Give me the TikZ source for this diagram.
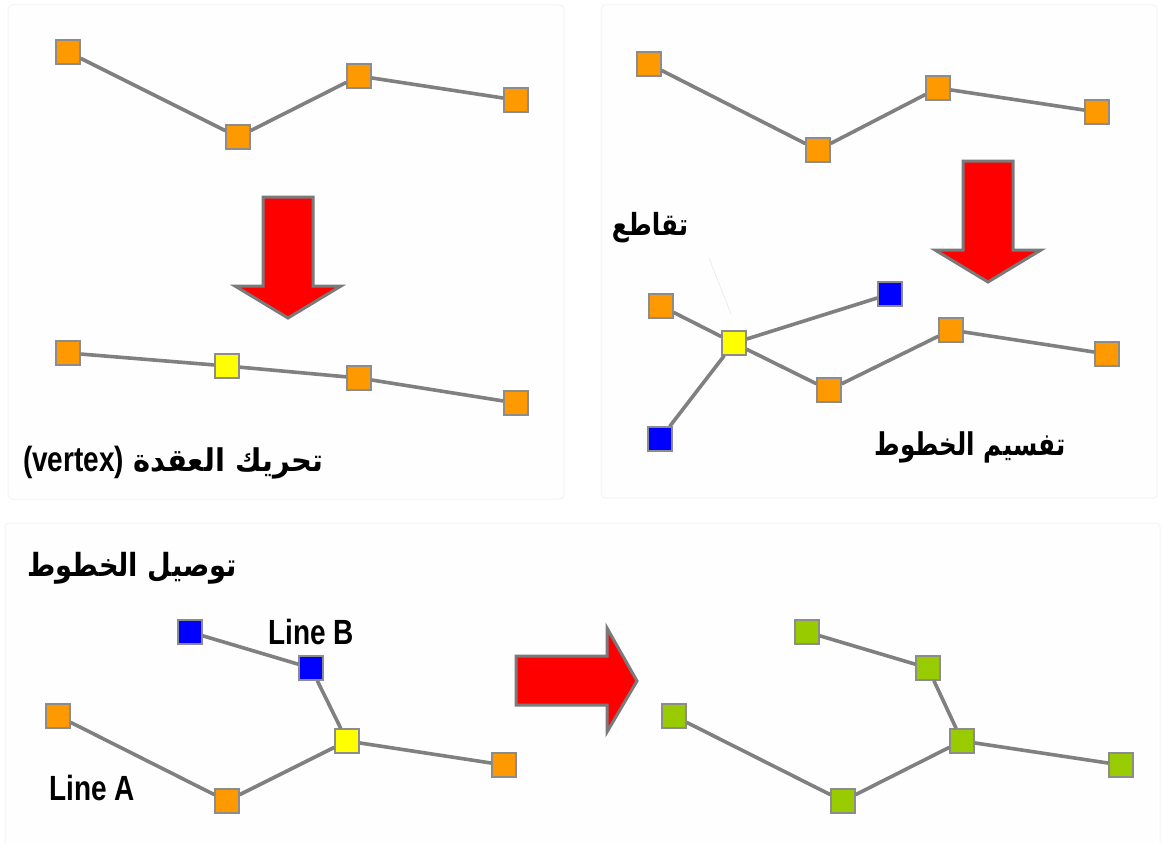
\documentclass[tikz,border=0pt]{standalone}
\usepackage{fontspec}
\setmainfont{Liberation Sans}
\newfontfamily\arabicfont[Script=Arabic]{DejaVu Sans}
\TeXXeTstate=1
\definecolor{panelfill}{HTML}{FEFEFE}
\definecolor{panelline}{HTML}{F4F4F4}
\definecolor{edgegray}{HTML}{808080}
\definecolor{vborder}{HTML}{8C8C8C}
\definecolor{vorange}{HTML}{FF9900}
\definecolor{vyellow}{HTML}{FFFF00}
\definecolor{vblue}{HTML}{0000FF}
\definecolor{vgreen}{HTML}{99CC00}
\definecolor{arrowline}{HTML}{7A7A7A}
\definecolor{leader}{HTML}{ECECEC}
\begin{document}
\begin{tikzpicture}[x=1pt,y=-1pt,
  panel/.style={fill=panelfill,draw=panelline,line width=1pt,rounded corners=4pt},
  vert/.style={rectangle,minimum size=24pt,inner sep=0pt,draw=vborder,line width=1.3pt},
  ov/.style={vert,fill=vorange},
  yv/.style={vert,fill=vyellow},
  bv/.style={vert,fill=vblue},
  gv/.style={vert,fill=vgreen},
  seg/.style={draw=edgegray,line width=3.6pt},
  bigarrow/.style={fill=red,draw=arrowline,line width=3pt,line join=miter},
  lbl/.style={inner sep=0pt,font=\fontsize{35}{40}\selectfont\bfseries},
  albl/.style={inner sep=0pt,font=\fontsize{29}{36}\selectfont\bfseries\arabicfont}]
\useasboundingbox (0,0) rectangle (1163,843);
\fill[white] (0,0) rectangle (1163,843);

% panels
\draw[panel] (8,5) rectangle (564,499);
\draw[panel] (601,5) rectangle (1157,498);
\draw[panel] (5,523) rectangle (1160,850);

% ---- vertex move: before
\node[ov] (a1) at (68,52) {};
\node[ov] (a2) at (238,137) {};
\node[ov] (a3) at (359,76) {};
\node[ov] (a4) at (516,100) {};
\draw[seg] (a1) -- (a2) -- (a3) -- (a4);

\draw[bigarrow] (263,197) -- (313,197) -- (313,286) -- (341,286) -- (288,318)
  -- (235,286) -- (263,286) -- cycle;

% ---- vertex move: after
\node[ov] (b1) at (68,353) {};
\node[yv] (b2) at (227,366) {};
\node[ov] (b3) at (359,378) {};
\node[ov] (b4) at (516,403) {};
\draw[seg] (b1) -- (b2) -- (b3) -- (b4);

\node[lbl] (t1) at (173,463) {\scalebox{0.8}[1]{(vertex)}\hspace{9pt}\scalebox{1.0}[1.08]{\arabicfont\fontsize{29}{36}\selectfont\beginR تحريك العقدة\endR}};

% ---- line split: before
\node[ov] (c1) at (649,64) {};
\node[ov] (c2) at (818,150) {};
\node[ov] (c3) at (938,88) {};
\node[ov] (c4) at (1097,112) {};
\draw[seg] (c1) -- (c2) -- (c3) -- (c4);

\draw[bigarrow] (963,161) -- (1013,161) -- (1013,250) -- (1041,250) -- (988,282)
  -- (935,250) -- (963,250) -- cycle;

% ---- line split: after
\node[ov] (d1) at (661,306) {};
\node[yv] (d2) at (734,343) {};
\node[bv] (d3) at (890,294) {};
\node[bv] (d4) at (660,439) {};
\node[ov] (d5) at (829,390) {};
\node[ov] (d6) at (951,330) {};
\node[ov] (d7) at (1107,354) {};
\draw[seg] (d1) -- (d2);
\draw[seg] (d2) -- (d3);
\draw[seg] (d2) -- (d4);
\draw[seg] (d2) -- (d5) -- (d6) -- (d7);

\node[albl] (t2) at (650,228) {\scalebox{0.85}[1.05]{\beginR تقاطع\endR}};
\coordinate (lead) at (709,258);
\coordinate (leadend) at (731,314);
\draw[leader,line width=0.8pt] (lead) -- (leadend);
\node[albl] (t3) at (970,447) {\scalebox{0.85}[1.08]{\beginR تفسيم الخطوط\endR}};

% ---- line join: before
\node[albl] (t4) at (132,568) {\scalebox{0.94}[1.1]{\beginR توصيل الخطوط\endR}};
\node[bv] (e1) at (190,632) {};
\node[bv] (e2) at (311,668) {};
\node[yv] (e3) at (347,741) {};
\node[ov] (e4) at (58,716) {};
\node[ov] (e5) at (227,801) {};
\node[ov] (e6) at (504,765) {};
\draw[seg] (e1) -- (e2) -- (e3);
\draw[seg] (e4) -- (e5) -- (e3) -- (e6);
\node[lbl] (lb) at (311,632) {\scalebox{0.8}[1]{Line B}};
\node[lbl] (la) at (92,788) {\scalebox{0.8}[1]{Line A}};

\draw[bigarrow] (516,656) -- (607,656) -- (607,628) -- (637,681) -- (607,732)
  -- (607,705) -- (516,705) -- cycle;

% ---- line join: after
\node[gv] (f1) at (807,632) {};
\node[gv] (f2) at (928,668) {};
\node[gv] (f3) at (962,741) {};
\node[gv] (f4) at (674,716) {};
\node[gv] (f5) at (843,801) {};
\node[gv] (f6) at (1121,765) {};
\draw[seg] (f1) -- (f2) -- (f3);
\draw[seg] (f4) -- (f5) -- (f3) -- (f6);
\end{tikzpicture}
\end{document}
